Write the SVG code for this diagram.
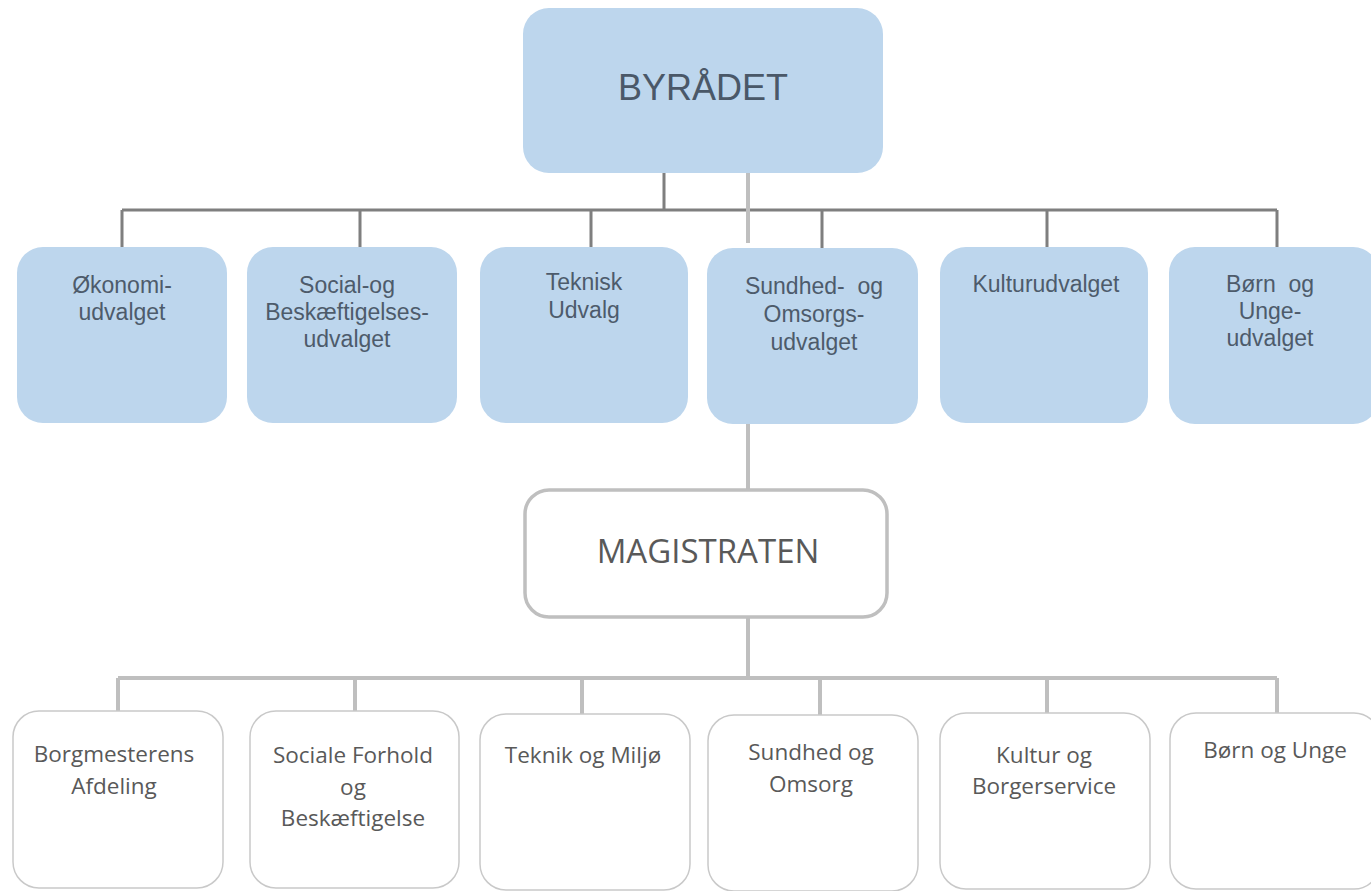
<svg xmlns="http://www.w3.org/2000/svg" width="1371" height="891" viewBox="0 0 1371 891">
<style>
.bg{fill:#ffffff}
.blue{fill:#bdd6ed;stroke:none}
.white{fill:#ffffff;stroke:#c9c9c9;stroke-width:1.5}
.mag{fill:#ffffff;stroke:#bfbfbf;stroke-width:3.5}
.dark{stroke:#7f7f7f;stroke-width:3;fill:none}
.light{stroke:#bfbfbf;stroke-width:4;fill:none}
.t1{font-family:"Liberation Sans",Arial,sans-serif;font-size:23px;fill:#4d5b6b;text-anchor:middle;white-space:pre}
.title{font-family:"Liberation Sans",Arial,sans-serif;font-size:36px;fill:#4a5868;text-anchor:middle}
.t2{font-family:"Open Sans",sans-serif;font-size:22.5px;fill:#595959;text-anchor:middle}
.mt{font-family:"Open Sans",sans-serif;font-size:33px;fill:#595959;text-anchor:middle}
</style>
<rect class="bg" x="0" y="0" width="1371" height="891"/>
<g id="connectors">
<path class="dark" d="M664 173 V210 M122 210 H1277 M122 210 V247 M360 210 V247 M591 210 V247 M822 210 V248 M1047 210 V247 M1277 210 V247"/>
<path class="light" d="M748 173 V243 M748 424 V490 M748 617 V678 M118 678 H1277 M118 678 V711 M355 678 V711 M582 678 V714 M820 678 V715 M1047 678 V713 M1277 678 V713"/>
</g>
<g id="byraadet">
<rect class="blue" x="523" y="8" width="360" height="165" rx="26"/>
<text class="title" x="703" y="100">BYRÅDET</text>
</g>
<g id="oekonomi">
<rect class="blue" x="17" y="247" width="210" height="176" rx="26"/>
<text class="t1" x="122" y="293">Økonomi-<tspan x="122" dy="27">udvalget</tspan></text>
</g>
<g id="social">
<rect class="blue" x="247" y="247" width="210" height="176" rx="26"/>
<text class="t1" x="347" y="293">Social-og<tspan x="347" dy="27">Beskæftigelses-</tspan><tspan x="347" dy="27">udvalget</tspan></text>
</g>
<g id="teknisk">
<rect class="blue" x="480" y="247" width="208" height="176" rx="26"/>
<text class="t1" x="584" y="290">Teknisk<tspan x="584" dy="28">Udvalg</tspan></text>
</g>
<g id="sundhed">
<rect class="blue" x="707" y="248" width="211" height="176" rx="26"/>
<text class="t1" x="814" y="294" xml:space="preserve">Sundhed-  og<tspan x="814" dy="28">Omsorgs-</tspan><tspan x="814" dy="28">udvalget</tspan></text>
</g>
<g id="kultur">
<rect class="blue" x="940" y="247" width="208" height="176" rx="26"/>
<text class="t1" x="1046" y="292">Kulturudvalget</text>
</g>
<g id="boern">
<rect class="blue" x="1169" y="247" width="210" height="177" rx="26"/>
<text class="t1" x="1270" y="292" xml:space="preserve">Børn  og<tspan x="1270" dy="27">Unge-</tspan><tspan x="1270" dy="27">udvalget</tspan></text>
</g>
<g id="magistraten">
<rect class="mag" x="525" y="490" width="362" height="127" rx="24"/>
<text class="mt" x="708" y="563">MAGISTRATEN</text>
</g>
<g id="borgmester">
<rect class="white" x="13" y="711" width="210" height="177" rx="26"/>
<text class="t2" x="114" y="762">Borgmesterens<tspan x="114" dy="32">Afdeling</tspan></text>
</g>
<g id="sociale">
<rect class="white" x="250" y="711" width="209" height="177" rx="26"/>
<text class="t2" x="353" y="763">Sociale Forhold<tspan x="353" dy="32">og</tspan><tspan x="353" dy="31">Beskæftigelse</tspan></text>
</g>
<g id="teknik">
<rect class="white" x="480" y="714" width="210" height="176" rx="26"/>
<text class="t2" x="583" y="763">Teknik og Miljø</text>
</g>
<g id="sundhedomsorg">
<rect class="white" x="708" y="715" width="210" height="176" rx="26"/>
<text class="t2" x="811" y="760">Sundhed og<tspan x="811" dy="32">Omsorg</tspan></text>
</g>
<g id="kulturborger">
<rect class="white" x="940" y="713" width="210" height="176" rx="26"/>
<text class="t2" x="1044" y="763">Kultur og<tspan x="1044" dy="31">Borgerservice</tspan></text>
</g>
<g id="boernunge">
<rect class="white" x="1170" y="713" width="210" height="176" rx="26"/>
<text class="t2" x="1275" y="758">Børn og Unge</text>
</g>
</svg>
